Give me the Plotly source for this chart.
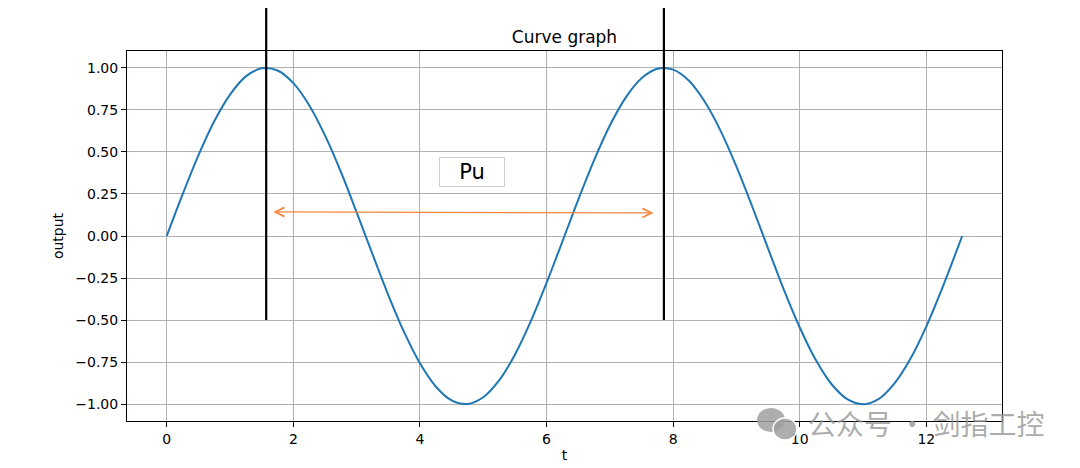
import plotly.graph_objects as go

# ---- data ----
t_values = [0, 0.25, 0.5, 0.75, 1.0, 1.25, 1.5, 1.75, 2.0, 2.25, 2.5, 2.75, 3.0, 3.25, 3.5, 3.75,
            4.0, 4.25, 4.5, 4.75, 5.0, 5.25, 5.5, 5.75, 6.0, 6.25, 6.5, 6.75, 7.0, 7.25, 7.5, 7.75,
            8.0, 8.25, 8.5, 8.75, 9.0, 9.25, 9.5, 9.75, 10.0, 10.25, 10.5, 10.75, 11.0, 11.25, 11.5,
            11.75, 12.0, 12.25, 12.5, 12.566]
output_values = [0.0, 0.247, 0.479, 0.682, 0.841, 0.949, 0.997, 0.984, 0.909, 0.778, 0.598, 0.382,
                 0.141, -0.108, -0.351, -0.572, -0.757, -0.895, -0.978, -0.999, -0.959, -0.859,
                 -0.706, -0.508, -0.279, -0.033, 0.215, 0.450, 0.657, 0.823, 0.938, 0.995, 0.989,
                 0.923, 0.798, 0.625, 0.412, 0.174, -0.075, -0.320, -0.544, -0.735, -0.880, -0.970,
                 -1.0, -0.968, -0.875, -0.729, -0.537, -0.311, -0.066, 0.0]
marker_t = [1.5708, 7.854]          # vertical marker positions (pi/2, 5pi/2)
marker_bottom = -0.5
arrow_start = [1.66, 0.143]          # arrow tail (t, output)
arrow_end = [7.69, 0.137]            # arrow head (t, output)
label_text = "Pu"
label_pos = [4.82, 0.38]
watermark_text = "公众号 · 剑指工控"
x_ticks = [0, 2, 4, 6, 8, 10, 12]
y_ticks = [-1.0, -0.75, -0.5, -0.25, 0.0, 0.25, 0.5, 0.75, 1.0]
x_range = [-0.628, 13.195]
y_range = [-1.1, 1.1]

FONT = "DejaVu Sans"

fig = go.Figure()
fig.add_trace(go.Scatter(
    x=t_values, y=output_values, mode="lines",
    line=dict(color="#1f77b4", width=2, shape="spline"),
    showlegend=False, hoverinfo="skip",
))

y_bottom_paper = (marker_bottom - y_range[0]) / (y_range[1] - y_range[0])
for xv in marker_t:
    fig.add_shape(type="line", xref="x", yref="paper", x0=xv, x1=xv,
                  y0=y_bottom_paper, y1=1.3, line=dict(color="black", width=2.2), layer="above")

# double-headed arrow
fig.add_annotation(
    x=arrow_end[0], y=arrow_end[1], ax=arrow_start[0], ay=arrow_start[1],
    xref="x", yref="y", axref="x", ayref="y", text="", showarrow=True,
    arrowhead=5, startarrowhead=5, arrowside="end+start", arrowsize=1.5, startarrowsize=1.5,
    arrowwidth=1.2, arrowcolor="#f5853f",
)

fig.add_annotation(
    x=label_pos[0], y=label_pos[1], xref="x", yref="y", text=label_text, showarrow=False,
    font=dict(family=FONT, size=21, color="black"), bgcolor="white",
    bordercolor="#cfcfcf", borderwidth=1, width=64, height=28, borderpad=0,
)

# watermark (WeChat-style icon + text)
wm_grey = "rgba(160,160,160,0.85)"
fig.add_shape(type="circle", xref="paper", yref="paper", x0=0.720, x1=0.752, y0=-0.0297, y1=0.0351,
              fillcolor=wm_grey, line=dict(width=0), layer="above")
fig.add_shape(type="circle", xref="paper", yref="paper", x0=0.7383, x1=0.7657, y0=-0.0514, y1=0.0081,
              fillcolor=wm_grey, line=dict(width=1.5, color="white"), layer="above")
fig.add_annotation(
    x=0.776, y=-0.0054, xref="paper", yref="paper", text=watermark_text, showarrow=False,
    font=dict(family="Noto Sans CJK SC", size=28, color="rgba(150,150,150,0.8)"),
    xanchor="left", yanchor="middle",
)

# figure is offset by the page's 8px body margin, so shrink and shift it accordingly
fig.update_layout(
    width=1072, height=460,
    margin=dict(l=119, r=78, t=43, b=47, autoexpand=False),
    paper_bgcolor="white", plot_bgcolor="white",
    font=dict(family=FONT, size=14, color="black"),
    title=dict(text="Curve graph", x=0.5, xref="paper", y=1, yref="paper",
               xanchor="center", yanchor="bottom", pad=dict(b=8),
               font=dict(family=FONT, size=17, color="black")),
)
fig.update_xaxes(
    range=x_range, tickvals=x_ticks, ticks="outside", ticklen=5, tickcolor="black",
    showline=True, linecolor="black", linewidth=1, mirror=True,
    showgrid=True, gridcolor="#b0b0b0", gridwidth=1, zeroline=False,
    title=dict(text="t", standoff=4, font=dict(family=FONT, size=14)),
)
fig.update_yaxes(
    range=y_range, tickvals=y_ticks, tickformat=".2f", ticks="outside", ticklen=5, tickcolor="black",
    showline=True, linecolor="black", linewidth=1, mirror=True,
    showgrid=True, gridcolor="#b0b0b0", gridwidth=1, zeroline=False,
    title=dict(text="output", standoff=8, font=dict(family=FONT, size=14)),
)

fig.write_html("out.html")
